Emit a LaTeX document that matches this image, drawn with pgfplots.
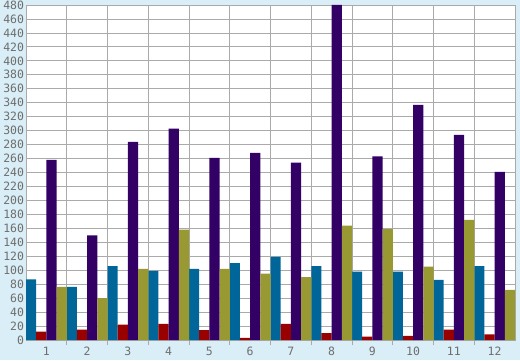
\documentclass[border=0pt]{standalone}
\usepackage{fontspec}
\setmainfont{DejaVu Sans Mono}
\usepackage{pgfplots}
\pgfplotsset{compat=1.18}
\definecolor{bgblue}{HTML}{D9EEF6}
\definecolor{gridgray}{HTML}{AAAAAA}
\definecolor{labgray}{HTML}{6E6E6E}
\definecolor{sblue}{HTML}{006699}
\definecolor{sred}{HTML}{990000}
\definecolor{spurple}{HTML}{330066}
\definecolor{solive}{HTML}{999933}
\begin{document}
\begin{tikzpicture}[x=1bp,y=1bp]
\useasboundingbox (0,0) rectangle (520,360);
\fill[bgblue] (0,0) rectangle (520,360);
\begin{axis}[
  at={(26bp,20bp)}, anchor=south west,
  scale only axis, width=489bp, height=335bp,
  xmin=0.5, xmax=12.5, ymin=0, ymax=480,
  axis background/.style={fill=white},
  ybar, bar width=10.1875bp,
  xtick={1,...,12},
  minor xtick={1.5,2.5,...,11.5},
  ytick={0,20,...,480},
  major x tick style={draw=none},
  minor x tick style={draw=gridgray, line width=0.8pt},
  minor tick length=5bp,
  xtick pos=bottom, xtick align=outside,
  ytick style={draw=none},
  grid=none,
  xminorgrids=true, ymajorgrids=true,
  minor grid style={draw=gridgray, line width=0.8pt},
  major grid style={draw=gridgray, line width=0.8pt},
  axis line style={draw=gridgray, line width=0.8pt},
  /pgf/number format/assume math mode=true,
  ticklabel style={font=\fontsize{11.5}{13}\selectfont, text=labgray},
  xticklabel style={yshift=0.5bp},
  yticklabel style={xshift=1.5bp},
  clip=true,
]
\addplot[fill=sblue, draw=none, bar shift=-15.28bp] coordinates {
(1,87) (2,76) (3,106) (4,99) (5,102) (6,110) (7,119) (8,106) (9,98) (10,98) (11,86) (12,106)};
\addplot[fill=sred, draw=none, bar shift=-5.09bp] coordinates {
(1,12) (2,15) (3,22) (4,23) (5,14) (6,3) (7,23) (8,10) (9,5) (10,6) (11,15) (12,8)};
\addplot[fill=spurple, draw=none, bar shift=5.09bp] coordinates {
(1,258) (2,150) (3,284) (4,303) (5,261) (6,268) (7,254) (8,480) (9,263) (10,337) (11,294) (12,241)};
\addplot[fill=solive, draw=none, bar shift=15.28bp] coordinates {
(1,76) (2,60) (3,102) (4,158) (5,102) (6,95) (7,90) (8,164) (9,159) (10,105) (11,172) (12,72)};
\end{axis}
\end{tikzpicture}
\end{document}
